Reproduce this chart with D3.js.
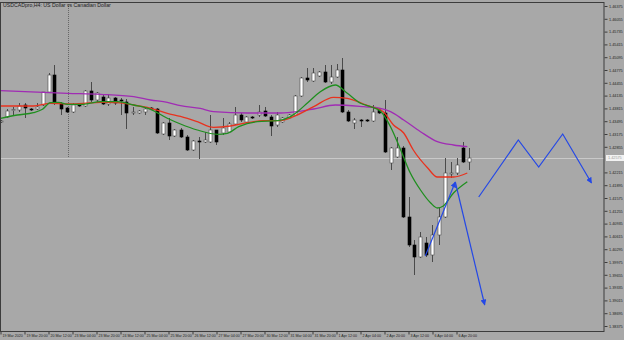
<!DOCTYPE html>
<html>
<head>
<meta charset="utf-8">
<script src="https://cdn.jsdelivr.net/npm/d3@7"></script>
<style>
html, body { margin: 0; padding: 0; background: #a8a8a8; }
svg { display: block; font-family: "Liberation Sans", "DejaVu Sans", sans-serif; }
</style>
</head>
<body>
<svg id="chart"></svg>
<script>
const title = 'USDCADpro,H4:  US Dollar vs Canadian Dollar';

// H4 candles, one per bar
const opens = [1.43475,1.43600,1.43775,1.43775,1.43900,1.43800,1.43800,1.43900,1.44225,1.44650,
  1.43925,1.43825,1.43725,1.43925,1.43875,1.44250,1.44025,1.44100,1.43925,1.44075,
  1.44025,1.43975,1.43700,1.43700,1.43725,1.43825,1.43800,1.43175,1.43450,1.43125,
  1.43275,1.43100,1.42775,1.43000,1.42975,1.42975,1.43275,1.43200,1.43225,1.43425,
  1.43650,1.43475,1.43600,1.43650,1.43750,1.43600,1.43400,1.43475,1.43575,1.43650,
  1.44125,1.44575,1.44500,1.44625,1.44725,1.44475,1.44600,1.44775,1.43725,1.43450,
  1.43525,1.43525,1.43500,1.43775,1.43700,1.42450,1.42600,1.42825,1.41100,1.40400,
  1.40100,1.40450,1.40150,1.40650,1.41100,1.42175,1.42200,1.42825,1.42475];
const highs = [1.43525,1.43800,1.43850,1.43950,1.43950,1.43825,1.43950,1.44225,1.44700,1.44900,
  1.43975,1.43850,1.43950,1.43950,1.44275,1.44475,1.44225,1.44175,1.44175,1.44100,
  1.44075,1.44050,1.43850,1.43775,1.43825,1.43850,1.43825,1.43475,1.43575,1.43300,
  1.43325,1.43150,1.43025,1.43100,1.43225,1.43650,1.43275,1.43575,1.43475,1.43850,
  1.43700,1.43625,1.43625,1.43900,1.43850,1.43650,1.43725,1.43600,1.43675,1.44150,
  1.44600,1.44825,1.44825,1.44750,1.44900,1.44900,1.44925,1.45075,1.43775,1.43575,
  1.43550,1.43550,1.43900,1.43825,1.44025,1.42850,1.43100,1.42875,1.41600,1.40525,
  1.40725,1.40600,1.40900,1.41325,1.42575,1.42475,1.42575,1.42975,1.42825];
const lows = [1.43450,1.43575,1.43650,1.43725,1.43575,1.43750,1.43775,1.43875,1.44200,1.43900,
  1.43650,1.43700,1.43700,1.43850,1.43850,1.43975,1.43975,1.43900,1.43875,1.43900,
  1.43650,1.43300,1.43650,1.43675,1.43650,1.43775,1.43175,1.43150,1.43025,1.43100,
  1.43075,1.42750,1.42750,1.42550,1.42950,1.42950,1.42900,1.43150,1.43200,1.43400,
  1.43475,1.43450,1.43550,1.43600,1.43600,1.43125,1.43350,1.43450,1.43550,1.43650,
  1.44100,1.44475,1.44475,1.44600,1.44450,1.44425,1.44575,1.43700,1.43475,1.43300,
  1.43350,1.43475,1.43475,1.43675,1.42700,1.42275,1.42575,1.41075,1.40350,1.39650,
  1.40075,1.40100,1.39975,1.40400,1.41075,1.42075,1.42150,1.42450,1.42275];
const closes = [1.43500,1.43750,1.43785,1.43875,1.43825,1.43795,1.43850,1.44225,1.44650,1.43950,
  1.43800,1.43725,1.43900,1.43875,1.44250,1.44025,1.44200,1.43925,1.44075,1.43950,
  1.44000,1.43700,1.43725,1.43750,1.43800,1.43800,1.43200,1.43450,1.43125,1.43275,
  1.43100,1.42775,1.43000,1.42975,1.43025,1.43275,1.42975,1.43325,1.43425,1.43650,
  1.43525,1.43600,1.43575,1.43725,1.43625,1.43375,1.43650,1.43575,1.43650,1.44125,
  1.44575,1.44525,1.44700,1.44725,1.44475,1.44600,1.44775,1.43725,1.43500,1.43525,
  1.43500,1.43500,1.43725,1.43700,1.42725,1.42825,1.42825,1.41100,1.40400,1.40100,
  1.40600,1.40150,1.40650,1.41100,1.42200,1.42200,1.42400,1.42475,1.42575];

// moving averages (bar position, price)
const slowBars = [0,11.2,16.7,22.2,25,27.8,30,33.3,35.5,41.2,46.7,49.5,52.2,55.8,60.5,63.3,65,67.2,70,72.8,75.5,77.8];
const slowVals = [1.44258,1.44193,1.44168,1.44108,1.44025,1.43968,1.43883,1.43813,1.43733,1.43700,1.43700,1.43733,1.43800,1.43900,1.43858,1.43818,1.43733,1.43525,1.43233,1.42983,1.42900,1.42858];
const midBars = [0,5.5,8.3,11.2,13.8,16.7,19.5,22.2,25,27.8,30,32.8,35.5,38.3,41.2,43.8,46.7,48.8,52.2,55.5,57.8,60.5,61.7,63.8,65.5,67.2,68.8,71.2,72.8,75.5,77.8];
const midVals = [1.43875,1.43875,1.43943,1.43925,1.43943,1.43968,1.43958,1.43900,1.43818,1.43693,1.43613,1.43483,1.43343,1.43375,1.43458,1.43508,1.43508,1.43608,1.43858,1.44093,1.44068,1.43925,1.43858,1.43733,1.43400,1.43200,1.42775,1.42325,1.42100,1.42100,1.42200];
const fastBars = [0,2.8,5.5,7,8.3,9.7,11.2,13.8,16.7,19.5,22.2,25,27.8,30,32.8,36.2,37.8,39.7,42.8,46.2,48.3,49.5,51.2,53.3,55.8,57.8,60,61.7,63.3,65,66.7,68.3,70,71.7,72.8,73.8,75.5,77.8];
const fastVals = [1.43568,1.43650,1.43708,1.43793,1.43958,1.43968,1.43918,1.43918,1.43983,1.43983,1.43900,1.43793,1.43568,1.43425,1.43275,1.43168,1.43193,1.43358,1.43483,1.43508,1.43608,1.43733,1.43958,1.44233,1.44400,1.44193,1.43943,1.43858,1.43750,1.43358,1.42775,1.42200,1.41775,1.41450,1.41325,1.41375,1.41700,1.41983];

// hand-drawn blue arrows
const upArrowBars = [70.8, 75.8];
const upArrowPrices = [1.40125, 1.41975];
const downArrowBars = [75.8, 80.7];
const downArrowPrices = [1.41975, 1.38900];
const zigzagBars = [79.7, 86.3, 89.7, 93.7, 98.5];
const zigzagPrices = [1.41600, 1.43025, 1.42350, 1.43175, 1.41950];

// axis labels
const priceTicks = [1.46375,1.46055,1.45735,1.45415,1.45095,1.44775,1.44455,1.44135,1.43815,1.43495,
  1.43175,1.42855,1.42535,1.42215,1.41895,1.41575,1.41255,1.40935,1.40615,1.40295,
  1.39975,1.39655,1.39335,1.39015,1.38695,1.38375];
const timeTickBars = [0,4,8,12,16,20,24,28,32,36,40,44,48,52,56,60,64,68,72,76];
const timeTickLabels = ['19 Mar 2020','19 Mar 20:00','20 Mar 12:00','23 Mar 04:00','23 Mar 20:00',
  '24 Mar 12:00','25 Mar 04:00','25 Mar 20:00','26 Mar 12:00','27 Mar 04:00',
  '27 Mar 20:00','30 Mar 12:00','31 Mar 04:00','31 Mar 20:00','1 Apr 12:00',
  '2 Apr 04:00','2 Apr 20:00','3 Apr 12:00','6 Apr 04:00','6 Apr 20:00'];
const crossBar = 11.2;

const width = 624, height = 340;
const plotRight = 604, plotTop = 2, plotBottom = 331;
const labelFont = '"Liberation Sans", "DejaVu Sans", sans-serif';

const svg = d3.select('#chart').attr('width', width).attr('height', height);
svg.append('rect').attr('width', width).attr('height', height).attr('fill', '#a8a8a8');

const x = d3.scaleLinear().domain([0, 100]).range([0.5, 600.5]);
const y = d3.scaleLinear().domain([1.38695, 1.46375]).range([313.2, 6]);

svg.append('defs').append('clipPath').attr('id', 'plot')
  .append('rect').attr('x', 0).attr('y', plotTop).attr('width', plotRight).attr('height', plotBottom - plotTop);

const marker = svg.select('defs').append('marker')
  .attr('id', 'head').attr('viewBox', '0 0 10 10')
  .attr('refX', 9).attr('refY', 5)
  .attr('markerWidth', 6).attr('markerHeight', 6)
  .attr('markerUnits', 'userSpaceOnUse')
  .attr('orient', 'auto');
marker.append('path').attr('d', 'M0,0 L10,5 L0,10 Z').attr('fill', '#2448e6');

const plot = svg.append('g').attr('clip-path', 'url(#plot)');

// last price line and the vertical dotted line
const lastClose = closes[closes.length - 1];
plot.append('line')
  .attr('x1', 0).attr('x2', plotRight)
  .attr('y1', Math.round(y(lastClose)) + 0.5).attr('y2', Math.round(y(lastClose)) + 0.5)
  .attr('stroke', '#c9c9c9').attr('stroke-width', 1);
plot.append('line')
  .attr('x1', Math.round(x(crossBar)) + 0.5).attr('x2', Math.round(x(crossBar)) + 0.5)
  .attr('y1', plotTop).attr('y2', y(lastClose))
  .attr('stroke', '#666').attr('stroke-width', 1).attr('stroke-dasharray', '1,1');

// candles
const bars = d3.range(opens.length).map(i => ({
  i, o: opens[i], h: highs[i], l: lows[i], c: closes[i]
}));

plot.selectAll('line.wick').data(bars).join('line')
  .attr('class', 'wick')
  .attr('x1', d => Math.round(x(d.i)) + 0.5).attr('x2', d => Math.round(x(d.i)) + 0.5)
  .attr('y1', d => y(d.h)).attr('y2', d => y(d.l))
  .attr('stroke', '#4a4a4a').attr('stroke-width', 1);

plot.selectAll('rect.body').data(bars).join('rect')
  .attr('class', 'body')
  .attr('x', d => Math.round(x(d.i)) - 1)
  .attr('width', 3)
  .attr('y', d => y(Math.max(d.o, d.c)))
  .attr('height', d => Math.max(1, Math.abs(y(d.o) - y(d.c))))
  .attr('fill', d => d.c >= d.o ? '#ffffff' : '#000000')
  .attr('stroke', d => d.c >= d.o ? '#4a4a4a' : '#000000')
  .attr('stroke-width', 0.6);

// moving averages
const maLine = d3.line().x(d => x(d[0])).y(d => y(d[1])).curve(d3.curveMonotoneX);
[
  { bars: slowBars, vals: slowVals, color: '#a02cb4' },
  { bars: midBars, vals: midVals, color: '#e8321e' },
  { bars: fastBars, vals: fastVals, color: '#1f8f1f' }
].forEach(s => {
  plot.append('path')
    .datum(s.bars.map((b, k) => [b, s.vals[k]]))
    .attr('d', maLine)
    .attr('fill', 'none')
    .attr('stroke', s.color)
    .attr('stroke-width', 1.3);
});

// blue arrows
const straight = d3.line().x(d => x(d[0])).y(d => y(d[1]));
[
  [upArrowBars, upArrowPrices],
  [downArrowBars, downArrowPrices],
  [zigzagBars, zigzagPrices]
].forEach(([bs, ps]) => {
  plot.append('path')
    .datum(bs.map((b, k) => [b, ps[k]]))
    .attr('d', straight)
    .attr('fill', 'none')
    .attr('stroke', '#2448e6')
    .attr('stroke-width', 1.2)
    .attr('marker-end', 'url(#head)');
});

// frame
svg.append('rect')
  .attr('x', 0.5).attr('y', plotTop + 0.5)
  .attr('width', plotRight - 0.5).attr('height', plotBottom - plotTop)
  .attr('fill', 'none').attr('stroke', '#3c3c3c').attr('stroke-width', 1);

// price axis
const lastY = y(lastClose);
const yAxis = d3.axisRight(y)
  .tickValues(priceTicks.filter(p => Math.abs(y(p) - lastY) > 6))
  .tickSize(3).tickPadding(1.5)
  .tickFormat(d3.format('.5f'));
const ya = svg.append('g').attr('transform', `translate(${plotRight + 0.5},0)`).call(yAxis);
ya.select('.domain').remove();
ya.selectAll('line').attr('stroke', '#3c3c3c');
ya.selectAll('text').attr('font-size', 3.8).attr('fill', '#1e1e1e').attr('font-family', labelFont);

// current price box
svg.append('rect')
  .attr('x', plotRight + 2).attr('y', lastY - 3)
  .attr('width', 18).attr('height', 6)
  .attr('fill', '#f2f2f2');
svg.append('text')
  .attr('x', plotRight + 4).attr('y', lastY + 1.4)
  .attr('font-size', 3.8).attr('fill', '#9a9a9a').attr('font-family', labelFont)
  .text(d3.format('.5f')(lastClose));

// time axis
const xAxis = d3.axisBottom(x)
  .tickValues(timeTickBars)
  .tickSize(3)
  .tickFormat((d, k) => timeTickLabels[k]);
const xa = svg.append('g').attr('transform', `translate(0,${plotBottom + 0.5})`).call(xAxis);
xa.select('.domain').remove();
xa.selectAll('line').attr('stroke', '#3c3c3c');
xa.selectAll('text')
  .attr('font-size', 3.6).attr('fill', '#1e1e1e').attr('font-family', labelFont)
  .attr('text-anchor', 'start').attr('dx', 1.5).attr('y', 2.5);

// title
svg.append('text')
  .attr('x', 3).attr('y', 7)
  .attr('font-size', 5.2).attr('fill', '#1e1e1e').attr('font-family', labelFont)
  .text(title);
</script>
</body>
</html>
